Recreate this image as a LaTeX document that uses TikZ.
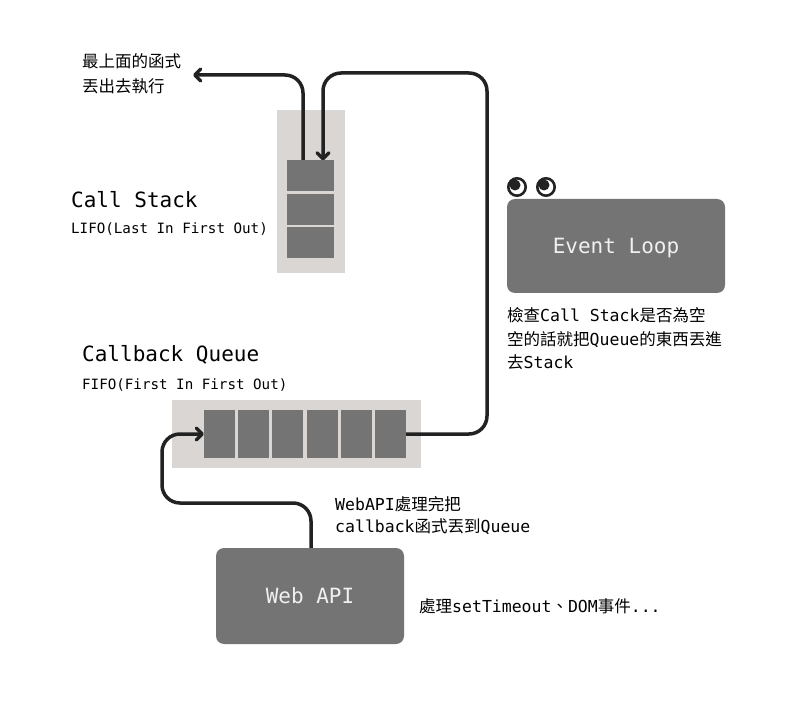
\documentclass[tikz,border=0pt]{standalone}
\usepackage{fontspec}
\setmainfont{DejaVu Sans Mono}
\newfontfamily\cjk{Noto Sans CJK TC}
\usetikzlibrary{positioning,arrows.meta}

\definecolor{boxgray}{HTML}{747474}
\definecolor{bggray}{HTML}{D9D6D3}
\definecolor{ink}{HTML}{222222}

\tikzset{
  bg/.style={fill=bggray, inner sep=0pt},
  cell/.style={fill=boxgray, inner sep=0pt},
  block/.style={fill=boxgray, rounded corners=8pt, text=white!94!black, inner sep=0pt,
    text depth=0pt, font=\fontsize{21}{25}\selectfont},
  title/.style={anchor=base west, inner sep=0pt, font=\fontsize{21}{25}\selectfont},
  sub/.style={anchor=base west, inner sep=0pt, font=\fontsize{14.2}{17}\selectfont},
  note/.style={anchor=base west, inner sep=0pt, font=\fontsize{16.5}{24}\selectfont},
  flow/.style={draw=ink, line width=3.5pt, rounded corners=18pt},
  tip/.style={-{Straight Barb[length=6pt,width=12pt,round]}}
}

\begin{document}
\begin{tikzpicture}[x=1pt,y=-1pt]
  \fill[white] (0,0) rectangle (793,703);
  \useasboundingbox (0,0) rectangle (793,703);

  % backgrounds
  \node[bg, minimum width=68pt, minimum height=163pt] (stack) at (311,191.5) {};
  \node[bg, minimum width=249pt, minimum height=68pt] (queue) at (296.5,434) {};

  % boxes
  \node[block, minimum width=218pt, minimum height=94pt] (loop) at (616,246) {Event Loop};
  \node[block, minimum width=188pt, minimum height=96pt] (web) at (310,596) {Web API};

  \coordinate (top) at (487,73);
  \coordinate (out) at (193,75);
  \coordinate (turn) at (162,503);
  \coordinate (s1n) at (310.5,160.5);

  % connectors
  \draw[flow,tip] ([xshift=-7.5pt]s1n) |- (out);
  \draw[flow,tip] (406,434) -| (top) -| ([xshift=12.5pt]s1n);
  \draw[flow,tip] ([xshift=1pt]web.north) |- (turn) |- (204,434);

  % cells
  \foreach \i/\y in {1/176,2/209.5,3/243}
    \node[cell, minimum width=47pt, minimum height=31pt] (s\i) at (310.5,\y) {};
  \foreach \i/\x in {1/219.5,2/253.7,3/287.9,4/322.1,5/356.3,6/390.5}
    \node[cell, minimum width=31pt, minimum height=47pt] (q\i) at (\x,434) {};

  % eyes
  \foreach \ex in {517,546} {
    \draw[ink, line width=2.6pt, fill=white] (\ex,187) circle (8.7pt);
    \fill[ink] (\ex-2,185) circle (5.5pt);
  }

  % labels
  \node[title] (cstitle) at (71,208) {Call Stack};
  \node[sub] (cssub) at (71,233.5) {LIFO(Last In First Out)};
  \node[title] (cqtitle) at (82,362) {Callback Queue};
  \node[sub] (cqsub) at (82,389) {FIFO(First In First Out)};

  \node[note] (outa) at (82,68) {\cjk 最上面的函式};
  \node[note, below=25pt of outa.base west, anchor=base west] (outb) {\cjk 丟出去執行};

  \node[note] (d1) at (507,322) {{\cjk 檢查}Call Stack{\cjk 是否為空}};
  \node[note, below=24pt of d1.base west, anchor=base west] (d2) {{\cjk 空的話就把}Queue{\cjk 的東西丟進}};
  \node[note, below=23pt of d2.base west, anchor=base west] (d3) {{\cjk 去}Stack};

  \node[note] (w1) at (335,510) {WebAPI{\cjk 處理完把}};
  \node[note, below=22pt of w1.base west, anchor=base west] (w2) {callback{\cjk 函式丟到}Queue};
  \node[note] (webnote) at (419,612) {{\cjk 處理}setTimeout{\cjk 、}DOM{\cjk 事件}...};
\end{tikzpicture}
\end{document}
